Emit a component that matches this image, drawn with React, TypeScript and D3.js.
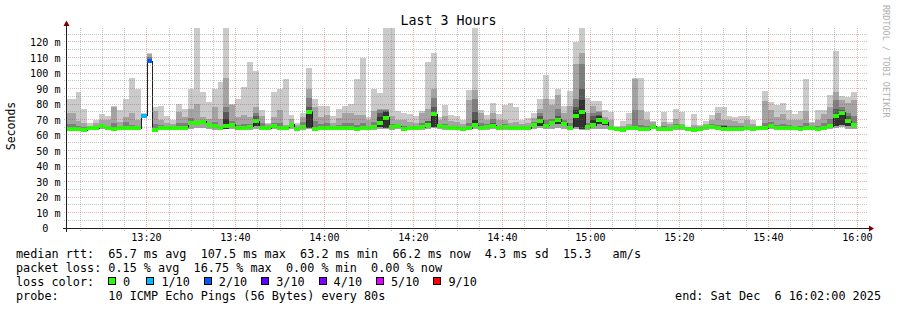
import React, { useEffect } from 'react';
import * as d3 from 'd3';

// ---- data (ms), one value per 80 s step, oldest first ----
const rttMedian = [
  64, 64, 64, 63.2, 64.3, 64.3, 65.6, 64.3, 64, 64.7,
  64.3, 64.3, 64.3, 72.3, 107.5, 63.4, 64.5, 64.7, 64.3, 64.7,
  64.7, 67.6, 68, 68.5, 66.5, 65.6, 64.3, 65.6, 66.5, 64.6,
  64.3, 65.2, 68.8, 64.3, 64.3, 65.6, 64.3, 64.6, 66.5, 64,
  65.2, 75, 63.9, 64.3, 64.3, 64.3, 64.3, 64.6, 64.3, 64,
  64.3, 64.6, 65.2, 68, 71, 65, 65.6, 64, 64.3, 64.3,
  65, 66.5, 73.5, 65.6, 65, 64.3, 64.2, 64, 64.3, 66.3,
  64.3, 65.2, 66, 64.3, 65.2, 64.3, 64.3, 64.3, 64.3, 66.5,
  69.3, 66, 67.5, 69.7, 67.2, 64.8, 72, 74.6, 65, 66.2,
  69.5, 68.2, 64.3, 63.9, 63.4, 64.3, 64.3, 64, 63.7, 65.4,
  64, 63.7, 64, 65, 65, 63.9, 63.2, 64, 65.2, 65.4,
  64.3, 63.9, 64, 64, 64, 64.3, 64, 64.3, 64.3, 65.8,
  64.3, 64.3, 64.6, 64.3, 63.8, 64.3, 64.3, 64, 64.6, 65.5,
  72, 74.2, 68.8, 66.2,
];
const rttMax = [
  83, 83, 88, 77, 67.5, 70, 73.5, 72, 79, 76,
  83, 97, 90, 74, 113, 78, 79, 72, 70, 80,
  77, 90, 135, 88, 81, 90, 94, 135, 80, 83,
  91, 107, 101, 76, 68, 88, 90, 96, 73, 67.5,
  74, 103, 83, 79, 79, 72, 76.6, 79, 80, 96,
  110, 71.4, 90, 87.3, 135, 135, 75.7, 74, 73.5, 72,
  75.7, 107, 113, 71.4, 79.4, 73, 72, 70, 89, 135,
  76, 73, 80.4, 73.5, 79.4, 80.4, 77.8, 70, 71, 74.4,
  83, 98.7, 83, 90, 78.7, 88.6, 120.2, 135, 84, 82,
  82, 76, 75, 66, 69, 74.4, 96.5, 97, 75, 69,
  66, 74.6, 68.6, 76.6, 75, 65.4, 73.5, 66.4, 69, 73,
  78.3, 78.3, 72, 71.8, 72, 72, 70, 66, 88.4, 81.5,
  79.4, 80.4, 76, 73.5, 75.7, 96, 68.6, 75.9, 76, 85.8,
  114.4, 85, 84.7, 88,
];
const rttP9 = [
  74, 74, 69, 68, 66, 67.5, 70, 70, 78, 68.5,
  71.5, 74, 70, 73.5, 112, 75.7, 69.7, 68, 67, 75,
  71.4, 76.6, 80, 71.4, 70.5, 78, 70.5, 96.6, 79.4, 71.4,
  73, 71.4, 77.8, 72.3, 67, 71.4, 76, 66.4, 70.3, 66.5,
  71.4, 89.5, 78.3, 71.8, 73, 67.5, 70.8, 74, 74, 73,
  73, 70, 75.7, 76.5, 77, 72.3, 70, 70, 68.5, 67.5,
  74, 76.6, 90, 70, 72, 69, 68.5, 67, 82.6, 89,
  74, 70, 74.4, 70, 70, 67.5, 68.5, 67, 67.5, 71,
  76.6, 83, 79.4, 85.8, 74, 78.7, 106, 112.7, 74, 78.7,
  75.5, 71.4, 70, 65.2, 66, 67, 96, 76, 70, 68.5,
  65.2, 68.6, 67, 70.4, 67, 65.2, 66.5, 65.8, 67, 69.7,
  74, 70, 70, 69, 68, 69.5, 67, 65.8, 82, 76,
  71.8, 73.5, 70, 70, 70, 75.7, 67.5, 70, 73.5, 78.3,
  88, 82.6, 80.4, 82.6,
];
const rttP8 = [
  67, 67, 65.8, 64.9, 65, 65.3, 67.3, 65.9, 67.6, 66.1,
  68.3, 66.5, 65.9, 73.3, 110.5, 67.2, 66.6, 66.1, 65.3, 67.7,
  67.6, 70.8, 69.2, 69.7, 68, 68.2, 65.9, 78, 69.2, 66.6,
  67.1, 67.2, 74, 67.7, 65.3, 67.6, 67.7, 65.4, 68, 65.2,
  68.1, 84, 68.8, 67.1, 67.7, 65.6, 66.5, 67.8, 67.7, 66.4,
  67.7, 66, 68.1, 76, 76, 67.4, 67.3, 65.8, 65.9, 65.6,
  68, 68.6, 84, 67.3, 67.4, 65.9, 65.9, 65.2, 67.7, 83,
  67.7, 66.9, 70.5, 65.9, 66.9, 65.6, 65.6, 65.3, 65.6, 68.3,
  74, 69.6, 70.2, 76.7, 69.5, 67.9, 83, 106, 68, 74.4,
  75, 69.9, 65.9, 64.6, 64.4, 65.6, 76, 66.4, 65.7, 66.7,
  64.6, 65.7, 65.2, 67.1, 65.9, 64.6, 64.3, 64.8, 66.1, 67,
  66.5, 66.4, 65.8, 65.8, 65.5, 65.9, 65.2, 65, 67.7, 68.3,
  66.5, 67.1, 66.3, 65.9, 65.7, 67.7, 65.6, 65.8, 67.8, 70.6,
  82.6, 78.3, 74, 72,
];
const rttP7 = [
  64.6, 64.6, 64.6, 63.8, 64.9, 64.9, 66.2, 64.9, 64.6, 65.3,
  64.9, 64.9, 64.9, 73, 108.5, 64, 65.1, 65.3, 64.9, 65.3,
  65.3, 68.4, 68.8, 69.2, 67.2, 66.2, 64.9, 75, 67.2, 65.2,
  64.9, 65.8, 72, 64.9, 64.9, 66.2, 64.9, 65.2, 67.2, 64.6,
  65.8, 78, 64.5, 64.9, 64.9, 64.9, 64.9, 65.2, 64.9, 64.6,
  64.9, 65.2, 65.8, 74, 75.5, 65.6, 66.2, 64.6, 64.9, 64.9,
  65.6, 69, 78.3, 66.2, 65.6, 64.9, 64.8, 64.6, 64.9, 75,
  64.9, 65.8, 68, 64.9, 65.8, 64.9, 64.9, 64.9, 64.9, 67.2,
  72, 66.8, 68.5, 72, 68, 65.4, 78, 90, 65.6, 72,
  73, 69, 64.9, 64.5, 64, 64.9, 64.9, 64.6, 64.3, 66,
  64.6, 64.3, 64.6, 65.6, 65.6, 64.5, 63.8, 64.6, 65.8, 66,
  64.9, 66, 64.6, 64.6, 64.6, 64.9, 64.6, 64.9, 64.9, 66.6,
  64.9, 64.9, 65.2, 64.9, 64.4, 64.9, 64.9, 64.6, 65.2, 66.5,
  77, 76, 72, 67.5,
];
const rttP6 = [
  64.3, 64.3, 64.5, 63.5, 64.5, 64.5, 66, 64.6, 64.4, 65,
  64.6, 64.6, 64.6, 72.6, 107.8, 63.8, 64.8, 65, 64.6, 65,
  65, 68, 68.4, 69, 67, 66, 64.6, 70.5, 67, 65,
  64.6, 65.6, 70, 64.6, 64.6, 66, 64.6, 65, 67, 64.3,
  65.6, 75, 64.2, 64.6, 64.6, 64.6, 64.6, 65, 64.6, 64.3,
  64.6, 65, 65.6, 71.8, 75, 65.4, 66, 64.3, 64.6, 64.6,
  65.4, 67.5, 75, 66, 65.4, 64.6, 64.5, 64.3, 64.6, 70,
  64.6, 65.6, 67, 64.6, 65.6, 64.6, 64.6, 64.6, 64.6, 67,
  70.5, 66.5, 68.5, 71, 68, 65.2, 76, 82.6, 65.4, 70,
  72, 69, 64.6, 64.2, 63.7, 64.6, 64.6, 64.3, 64, 65.8,
  64.3, 64, 64.3, 65.4, 65.4, 64.2, 63.5, 64.3, 65.6, 65.8,
  64.6, 66, 64.3, 64.3, 64.3, 64.6, 64.3, 64.6, 64.6, 66.2,
  64.6, 64.6, 65, 64.6, 64.1, 64.6, 64.6, 64.3, 65, 66,
  72, 75, 70, 67,
];
const rttP5 = [
  63.7, 63.7, 63.7, 63, 64, 64, 65.2, 64, 63.6, 64.3,
  64, 64, 64, 72, 107.3, 63.2, 64.2, 64.4, 64, 64.4,
  64.4, 67, 67.6, 68, 66, 65.2, 64, 64, 66, 64.2,
  64, 64.8, 66, 64, 64, 65.2, 64, 64.2, 66, 63.7,
  64.8, 64.5, 63.6, 64, 64, 64, 64, 64.3, 64, 63.7,
  64, 64.3, 64.8, 65.4, 64.5, 64.6, 65.2, 63.7, 64, 64,
  64.6, 65, 65, 65.2, 64.6, 64, 64, 63.7, 64, 65.5,
  64, 64.8, 65.5, 64, 64.8, 64, 64, 64, 64, 66,
  66, 65.5, 66.5, 67, 66.5, 64.4, 65, 64, 64.6, 65,
  67, 66.5, 64, 63.6, 63.2, 64, 64, 63.7, 63.5, 65,
  63.7, 63.5, 63.7, 64.6, 64.6, 63.6, 63, 63.7, 64.8, 65,
  64, 63.6, 63.7, 63.7, 63.7, 64, 63.7, 64, 64, 65.2,
  64, 64, 64.3, 64, 63.5, 64, 64, 63.7, 64.3, 65,
  66, 66.5, 66, 65.5,
];
const rttMin = [
  63, 63, 63, 62.5, 63.5, 63.5, 64, 63.2, 63, 63.5,
  63.2, 63, 63, 71.5, 107, 62.8, 63.2, 63.5, 63.2, 63.5,
  63.5, 64, 64.5, 64.5, 64, 63.5, 63.2, 64, 64, 63.3,
  63.2, 63.5, 64, 63.2, 63.2, 64, 63.2, 63.3, 64, 63,
  63.5, 64, 63, 63.2, 63.2, 63.2, 63.2, 63.3, 63.2, 63,
  63.2, 63.3, 63.5, 64, 64, 63.5, 64, 63, 63.2, 63.2,
  63.5, 64, 64.5, 64, 63.5, 63.2, 63, 63, 63.2, 64,
  63.2, 63.5, 64, 63.2, 63.5, 63.2, 63.2, 63.2, 63.2, 64,
  64.5, 64, 64, 64.5, 64, 63.5, 64, 63.5, 63.5, 64,
  64, 64, 63.2, 63, 62.8, 63.2, 63.2, 63, 63, 63.8,
  63, 63, 63, 63.5, 63.5, 63, 62.6, 63, 63.5, 63.6,
  63.2, 63, 63, 63, 63, 63.2, 63, 63.2, 63.2, 63.8,
  63.2, 63.2, 63.3, 63.2, 63, 63.2, 63.2, 63, 63.3, 63.8,
  64.5, 65, 64, 64,
];
// lost pings (of 10) per step: only two steps lost packets
const lossCount = [
  0, 0, 0, 0, 0, 0, 0, 0, 0, 0, 0, 0, 0, 1, 2,
];

const lossLabels = ['0', '1/10', '2/10', '3/10', '4/10', '5/10', '9/10'];
const lossThresholds = [0, 1, 2, 3, 4, 5, 9];
const lossColors = ['#26ff00', '#00b8ff', '#0059ff', '#5e00ff', '#7e00ff', '#dd00ff', '#ff0000'];
const smokeColors = ['#cacaca', '#a4a4a4', '#7e7e7e', '#585858', '#323232'];

const yTickValues = [0, 10, 20, 30, 40, 50, 60, 70, 80, 90, 100, 110, 120];
const title = 'Last 3 Hours';
const legendLines = [
  'median rtt:  65.7 ms avg  107.5 ms max  63.2 ms min  66.2 ms now  4.3 ms sd  15.3   am/s',
  'packet loss: 0.15 % avg  16.75 % max  0.00 % min  0.00 % now',
];
const probeText = 'probe:       10 ICMP Echo Pings (56 Bytes) every 80s';
const endText = 'end: Sat Dec  6 16:02:00 2025';

const T0 = new Date(2025, 11, 6, 13, 2, 0);
const T1 = new Date(2025, 11, 6, 16, 2, 0);
const FIRST_STEP_END = new Date(2025, 11, 6, 13, 2, 35);
const STEP_S = 80;

const MONO = "'DejaVu Sans Mono', monospace";
const nb = (s: string) => s.replace(/ /g, '\u00a0');

export default function App() {
  useEffect(() => {
    document.body.style.margin = '0';
  }, []);

  const W = 897, H = 310;
  const left = 67, right = 866, bottom = 228, top = 28;
  const x = d3.scaleTime().domain([T0, T1]).range([left, right]);
  const y = d3.scaleLinear().domain([0, (bottom - top) / 1.55]).range([bottom, top]);

  const steps = rttMedian.map((m, i) => {
    const end = new Date(FIRST_STEP_END.getTime() + i * STEP_S * 1000);
    const start = new Date(end.getTime() - STEP_S * 1000);
    const x0 = Math.max(left, Math.round(x(start)));
    const x1 = Math.min(right, Math.round(x(end)));
    return {
      i, x0, x1, med: m,
      bands: [
        [rttMin[i], rttMax[i]],
        [rttMin[i], rttP9[i]],
        [rttP5[i], rttP8[i]],
        [rttP5[i], rttP7[i]],
        [rttP5[i], rttP6[i]],
      ],
      loss: lossCount[i] || 0,
    };
  });

  const lossColor = (n: number) => {
    let c = lossColors[0];
    lossThresholds.forEach((t, k) => { if (n >= t) c = lossColors[k]; });
    return c;
  };

  const medPts: [number, number][] = [];
  steps.forEach((s) => {
    medPts.push([s.x0, y(s.med)]);
    medPts.push([s.x1, y(s.med)]);
  });
  const medLine = d3.line().x((d) => Math.round(d[0])).y((d) => Math.floor(d[1]) + 0.5)(medPts) || '';

  const minorTimes = d3.timeMinute.every(5)!.range(new Date(T0.getTime() + 1), T1);
  const gridVals = d3.range(5, 130, 5);

  const px = (v: number) => Math.floor(v) + 0.5;

  return (
    <svg width={W} height={H} style={{ position: 'absolute', left: 0, top: 0, background: '#fff' }}
      fontFamily={MONO}>
      <defs>
        <clipPath id="plot">
          <rect x={left} y={top} width={right - left} height={bottom - top} />
        </clipPath>
      </defs>
      <rect x={0} y={0} width={W} height={H} fill="#ffffff" />
      <text x={448.5} y={24.5} fontSize={13.3} textAnchor="middle" fill="#000">{title}</text>

      <g clipPath="url(#plot)" shapeRendering="crispEdges">
        {smokeColors.map((col, b) => (
          <g key={b} fill={col}>
            {steps.map((s) => {
              const [lo, hi] = s.bands[b];
              const y0 = Math.round(y(hi));
              const y1 = Math.round(y(lo));
              if (y1 - y0 <= 0) return null;
              return <rect key={s.i} x={s.x0} y={y0} width={s.x1 - s.x0} height={y1 - y0} />;
            })}
          </g>
        ))}
        <path d={medLine} fill="none" stroke="#202020" strokeWidth={1} />
        {steps.map((s) => (
          <rect key={s.i} x={s.x0} y={Math.round(y(s.med) - 2)} width={s.x1 - s.x0} height={4}
            fill={lossColor(s.loss)} />
        ))}
      </g>

      <g strokeDasharray="1 1" shapeRendering="crispEdges" fill="none">
        {gridVals.map((v) => (
          <line key={'h' + v} x1={left - 3} x2={right + 1} y1={px(y(v))} y2={px(y(v))}
            stroke={v % 10 === 0 ? 'rgba(200,50,50,0.38)' : 'rgba(140,140,140,0.5)'} />
        ))}
        {minorTimes.map((t) => (
          <line key={'v' + t.getTime()} x1={px(x(t))} x2={px(x(t))} y1={top} y2={bottom + 3}
            stroke={t.getMinutes() % 20 === 0 ? 'rgba(200,50,50,0.38)' : 'rgba(140,140,140,0.5)'} />
        ))}
      </g>

      <g shapeRendering="crispEdges">
        <line x1={left - 4} x2={right + 4} y1={bottom + 0.5} y2={bottom + 0.5} stroke="#202020" />
        <line x1={left - 0.5} x2={left - 0.5} y1={bottom + 4} y2={top - 3} stroke="#202020" />
      </g>
      <path d={`M${right + 3},${bottom - 2.5} L${right + 8},${bottom + 0.5} L${right + 3},${bottom + 3.5} Z`} fill="#800000" />
      <path d={`M${left - 3.5},${top - 2} L${left - 0.5},${top - 7.5} L${left + 2.5},${top - 2} Z`} fill="#800000" />

      <g fontSize={10.1} fill="#000" textAnchor="end">
        {yTickValues.map((v) => (
          <text key={v} x={60.5} y={y(v) + 4}>{nb(v === 0 ? '0  ' : `${v} m`)}</text>
        ))}
      </g>
      <text transform="translate(15,126) rotate(-90)" fontSize={11.5} textAnchor="middle" fill="#000">Seconds</text>

      <g fontSize={10.1} fill="#000" textAnchor="middle">
        {minorTimes.filter((t) => t.getMinutes() % 20 === 0).map((t) => (
          <text key={t.getTime()} x={px(x(t))} y={241}>{d3.timeFormat('%H:%M')(t)}</text>
        ))}
      </g>

      <text transform="translate(883,5) rotate(90)" fontSize={8.5} fill="#b0b0b0">RRDTOOL / TOBI OETIKER</text>

      <g fontSize={11.8} fill="#000">
        {legendLines.map((l, k) => (
          <text key={k} x={16} y={258 + k * 14}>{nb(l)}</text>
        ))}
        <text x={16} y={286}>{nb('loss color:')}</text>
        {lossLabels.map((lab, k) => {
          const bx = k === 0 ? 108.5 : 146.8 + (k - 1) * 57.4;
          return (
            <g key={lab}>
              <rect x={bx} y={277.5} width={7} height={7} fill={lossColors[k]} stroke="#000" shapeRendering="crispEdges" />
              <text x={bx + 14.6} y={286}>{lab}</text>
            </g>
          );
        })}
        <text x={16} y={300}>{nb(probeText)}</text>
        <text x={881} y={300} textAnchor="end">{nb(endText)}</text>
      </g>
    </svg>
  );
}
